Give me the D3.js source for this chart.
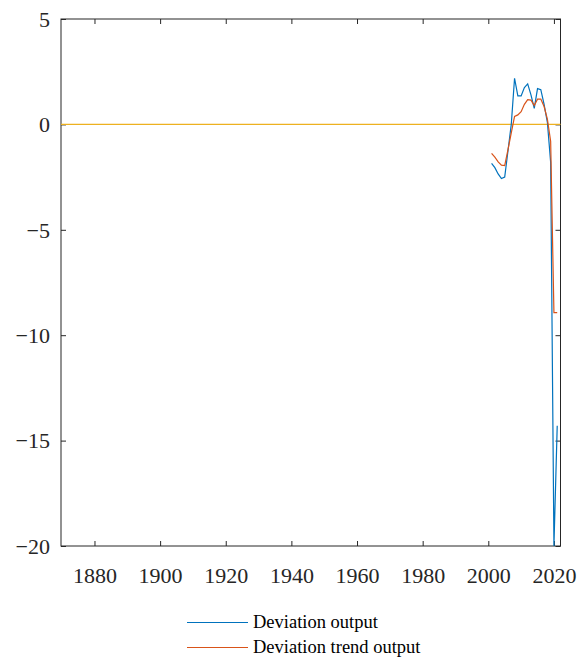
<!DOCTYPE html>
<html>
<head>
<meta charset="utf-8">
<title>Deviation output</title>
<style>
	body { margin: 0; background: #fff; }
	.legend text { font-family: "Liberation Serif", serif; font-size: 18.5px; fill: #000; }
</style>
</head>
<body>
<script src="https://d3js.org/d3.v7.min.js"></script>
<script>

// data
var years = [2001, 2002, 2003, 2004, 2005, 2006, 2007, 2008, 2009, 2010, 2011,
             2012, 2013, 2014, 2015, 2016, 2017, 2018, 2019, 2020, 2021];
var deviationOutput = [-1.85, -2.05, -2.35, -2.57, -2.5, -1.25, 0.0, 2.19, 1.35, 1.35, 1.75,
                       1.92, 1.4, 0.76, 1.7, 1.65, 0.95, 0.1, -1.8, -20, -14.3];
var deviationTrend = [-1.37, -1.55, -1.78, -1.93, -1.95, -1.2, -0.4, 0.38, 0.45, 0.6, 0.95,
                      1.17, 1.15, 0.9, 1.2, 1.2, 0.85, 0.25, -0.8, -8.93, -8.93];
var xTicks = [1880, 1900, 1920, 1940, 1960, 1980, 2000, 2020];
var yTicks = [5, 0, -5, -10, -15, -20];
var seriesNames = ["Deviation output", "Deviation trend output"];
var colors = ["#0072BD", "#D95319"];

var width = 579, height = 665;
var margin = {top: 19, right: 18.5, bottom: 119, left: 61};
var w = width - margin.left - margin.right;
var h = height - margin.top - margin.bottom;

var svg = d3.select("body").append("svg")
	.attr("width", width)
	.attr("height", height);

var g = svg.append("g")
	.attr("transform", "translate(" + margin.left + "," + margin.top + ")");

var x = d3.scaleLinear().domain([1869.8, 2022]).range([0, w]);
var y = d3.scaleLinear().domain([-20, 5]).range([h, 0]);

// axes, ticks pointing inward like matlab
var xAxis = g.append("g")
	.attr("transform", "translate(0," + h + ")")
	.call(d3.axisBottom(x).tickValues(xTicks).tickFormat(d3.format("d")).tickSizeInner(-5).tickSizeOuter(0).tickPadding(21));
var xTop = g.append("g")
	.call(d3.axisTop(x).tickValues(xTicks).tickFormat("").tickSizeInner(-5).tickSizeOuter(0));
var yAxis = g.append("g")
	.call(d3.axisLeft(y).tickValues(yTicks).tickFormat(d3.format("d")).tickSizeInner(-5).tickSizeOuter(0).tickPadding(11));
var yRight = g.append("g")
	.attr("transform", "translate(" + w + ",0)")
	.call(d3.axisRight(y).tickValues(yTicks).tickFormat("").tickSizeInner(-5).tickSizeOuter(0));

g.selectAll(".domain").remove();
g.selectAll(".tick line").attr("stroke", "#262626");
g.selectAll(".tick text")
	.style("font-family", "'Liberation Serif', 'Times New Roman', serif")
	.style("font-size", "22px")
	.attr("fill", "#262626");
yAxis.selectAll("text").attr("dy", "0.33em");

// box
g.append("rect")
	.attr("width", w)
	.attr("height", h)
	.attr("fill", "none")
	.attr("stroke", "#262626")
	.attr("stroke-width", 1);

// zero line
g.append("line")
	.attr("x1", 0).attr("x2", w)
	.attr("y1", y(0)).attr("y2", y(0))
	.attr("stroke", "#EDB120")
	.attr("stroke-width", 1.2);

var line = d3.line()
	.x(function(d) { return x(d[0]); })
	.y(function(d) { return y(d[1]); });

[deviationOutput, deviationTrend].forEach(function(vals, i) {
	g.append("path")
		.datum(years.map(function(yr, j) { return [yr, vals[j]]; }))
		.attr("fill", "none")
		.attr("stroke", colors[i])
		.attr("stroke-width", 1.2)
		.attr("d", line);
});

// legend
var legend = svg.append("g").attr("class", "legend");
seriesNames.forEach(function(name, i) {
	var ly = 622.5 + i * 25;
	legend.append("line")
		.attr("x1", 187).attr("x2", 248)
		.attr("y1", ly).attr("y2", ly)
		.attr("stroke", colors[i])
		.attr("stroke-width", 1.2);
	legend.append("text")
		.attr("x", 253)
		.attr("y", ly)
		.attr("dy", "0.32em")
		.text(name);
});

</script>
</body>
</html>
